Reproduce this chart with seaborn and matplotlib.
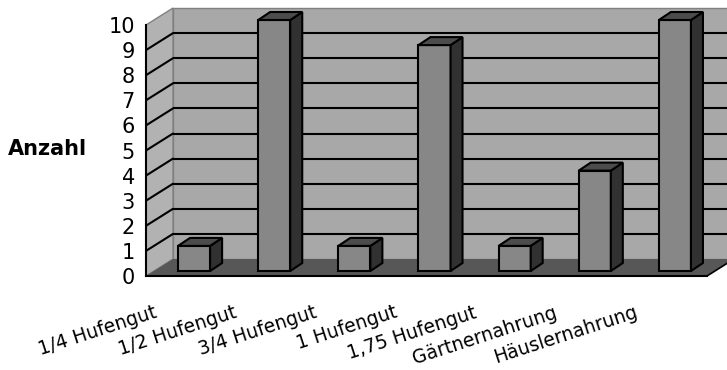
import matplotlib
matplotlib.use("Agg")
import matplotlib.pyplot as plt
from matplotlib.patches import Polygon
from matplotlib.transforms import ScaledTranslation
import numpy as np
import pandas as pd
import seaborn as sns

# ---- data -------------------------------------------------------------
categories = ["1/4 Hufengut", "1/2 Hufengut", "3/4 Hufengut", "1 Hufengut",
              "1,75 Hufengut", "Gärtnernahrung", "Häuslernahrung"]
counts = [1, 10, 1, 9, 1, 4, 10]
y_ticks = list(range(0, 11))
y_title = "Anzahl"

# ---- style ------------------------------------------------------------
sns.set_theme(style="white")
plt.rcParams["font.family"] = ["DejaVu Sans"]

WALL_BACK = "#a8a8a8"
WALL_SIDE = "#b2b2b2"
FLOOR = "#575757"
EDGE_GREY = "#808080"
BAR_FRONT = "#878787"
BAR_SIDE = "#313131"
BAR_TOP = "#4c4c4c"

W, H = 727, 370
fig = plt.figure(figsize=(W / 100, H / 100), dpi=100)

# front plane of the pseudo-3D box, in pixels
fx0, fx1 = 146, 707
fy0, fy1 = 276, 25
ncat = len(categories)
px_cat = (fx1 - fx0) / ncat
px_val = (fy0 - fy1) / 10.0

ax = fig.add_axes([fx0 / W, 1 - fy0 / H, (fx1 - fx0) / W, (fy0 - fy1) / H])
ax.set_facecolor("none")
ax.set_xlim(-0.5, ncat - 0.5)
ax.set_ylim(0, 10)

# depth of the box (back wall offset) in data units
DX = 27 / px_cat
DY = 17 / px_val
xl, xr = -0.5, ncat - 0.5
ytop = max(y_ticks)

back = Polygon([(xl + DX, DY), (xr + DX, DY), (xr + DX, ytop + DY), (xl + DX, ytop + DY)],
               closed=True, facecolor=WALL_BACK, edgecolor=EDGE_GREY, lw=1.0,
               clip_on=False, zorder=0)
side = Polygon([(xl, 0), (xl + DX, DY), (xl + DX, ytop + DY), (xl, ytop)],
               closed=True, facecolor=WALL_SIDE, edgecolor=EDGE_GREY, lw=1.0,
               clip_on=False, zorder=0.1)
floor = Polygon([(xl, 0), (xr, 0), (xr + DX, DY), (xl + DX, DY)],
                closed=True, facecolor=FLOOR, edgecolor="none",
                clip_on=False, zorder=0.2)
for p in (back, side, floor):
    ax.add_patch(p)
ax.plot([xr, xr + DX], [0, DY], color="black", lw=1.2, clip_on=False, zorder=0.3)

# gridlines on back and left walls
for v in y_ticks[1:-1]:
    ax.plot([xl + DX, xr + DX], [v + DY, v + DY], color="black", lw=1.5,
            clip_on=False, zorder=0.5, solid_capstyle="butt")
    ax.plot([xl, xl + DX], [v, v + DY], color="black", lw=1.5,
            clip_on=False, zorder=0.5)

# axes spines and ticks
for s in ("top", "right"):
    ax.spines[s].set_visible(False)
for s in ("left", "bottom"):
    ax.spines[s].set_color("black")
    ax.spines[s].set_linewidth(1.5)
    ax.spines[s].set_zorder(3)

ax.set_yticks(y_ticks)
ax.set_yticklabels([str(v) for v in y_ticks], fontsize=15, color="black")
ax.tick_params(axis="y", direction="out", length=7, width=1.4, pad=1, colors="black")
ax.set_xticks(np.arange(-0.5, ncat, 1.0))
ax.set_xticklabels([])
ax.tick_params(axis="x", direction="out", length=6, width=1.4, colors="black")

# category labels, rotated
lbl_tr = ax.get_xaxis_transform() + ScaledTranslation(-33 / 100, -27 / 100, fig.dpi_scale_trans)
for i, name in enumerate(categories):
    ax.text(i, 0, name, transform=lbl_tr, rotation=18, rotation_mode="anchor",
            ha="right", va="top", fontsize=13.5, color="black")

fig.text(8 / W, 1 - 149 / H, y_title, fontsize=15, fontweight="bold",
         ha="left", va="center", color="black")

# ---- bars: a second axes shifted into the depth of the box -------------
bdx_px, bdy_px = 8, 5
bx = fig.add_axes([(fx0 + bdx_px) / W, 1 - (fy0 - bdy_px) / H,
                   (fx1 - fx0) / W, (fy0 - fy1) / H])
df = pd.DataFrame({"Kategorie": categories, "Anzahl": counts})
sns.barplot(data=df, x="Kategorie", y="Anzahl", ax=bx, color=BAR_FRONT,
            saturation=1, width=0.4, edgecolor="black", linewidth=1.5)
bx.set_xlim(-0.5, ncat - 0.5)
bx.set_ylim(0, 10)
bx.set_axis_off()

BDX = 12 / px_cat
BDY = 8 / px_val
for bar in list(bx.patches):
    x = bar.get_x()
    w = bar.get_width()
    h = bar.get_height()
    side_face = Polygon([(x + w, 0), (x + w + BDX, BDY), (x + w + BDX, h + BDY), (x + w, h)],
                        closed=True, facecolor=BAR_SIDE, edgecolor="black", lw=1.5,
                        clip_on=False, zorder=bar.get_zorder())
    top_face = Polygon([(x, h), (x + w, h), (x + w + BDX, h + BDY), (x + BDX, h + BDY)],
                       closed=True, facecolor=BAR_TOP, edgecolor="black", lw=1.5,
                       clip_on=False, zorder=bar.get_zorder())
    bx.add_patch(side_face)
    bx.add_patch(top_face)
    bar.set_clip_on(False)

fig.savefig("out.png", dpi=100, facecolor="white")
